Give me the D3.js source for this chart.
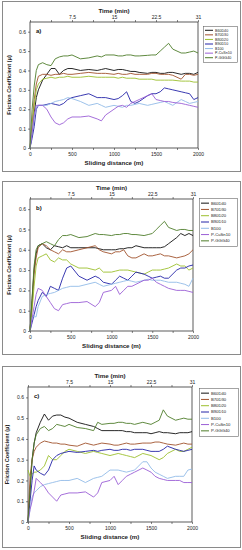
<!DOCTYPE html>
<html>
<head>
<meta charset="utf-8">
<script src="https://cdn.jsdelivr.net/npm/d3@7"></script>
<style>
  body { margin: 0; background: #fff; }
  svg { display: block; font-family: Arial, "Liberation Sans", sans-serif; }
</style>
</head>
<body>
<script>
// sliding distance (m) sample points shared by every curve
const distance = [0,25,50,75,100,150,200,250,300,350,400,450,500,600,700,800,850,900,1000,1050,1100,1150,1200,1250,1300,1400,1450,1500,1550,1600,1650,1700,1800,1850,1900,1950,2000];

const seriesNames = ["B60D40","B70D30","B80D20","B90D10","B100","P-CuSn10","P-GGG40"];
const seriesColors = ["#111111","#a0522d","#9cbf2e","#2424a8","#92bbe8","#9b5fd6","#4e7d2a"];

const yTicks = [0, 0.1, 0.2, 0.3, 0.4, 0.5, 0.6];
const xTicks = [0, 500, 1000, 1500, 2000];
const timeTicks = [7.5, 15, 22.5, 30];
const timeLabels = ["7.5", "15", "22.5", "31"];

// panel a)
const aB60D40 = [0,0.08,0.18,0.26,0.30,0.35,0.38,0.41,0.41,0.38,0.40,0.41,0.41,0.40,0.405,0.40,0.405,0.41,0.40,0.405,0.405,0.40,0.395,0.395,0.39,0.385,0.39,0.39,0.385,0.385,0.39,0.39,0.38,0.385,0.385,0.38,0.39];
const aB70D30 = [0,0.12,0.25,0.33,0.37,0.38,0.38,0.375,0.38,0.38,0.385,0.38,0.38,0.385,0.39,0.385,0.385,0.385,0.38,0.385,0.38,0.38,0.385,0.38,0.38,0.38,0.385,0.385,0.38,0.38,0.38,0.375,0.355,0.38,0.38,0.375,0.38];
const aB80D20 = [0,0.10,0.22,0.30,0.33,0.355,0.36,0.365,0.36,0.365,0.365,0.37,0.365,0.365,0.37,0.365,0.365,0.365,0.365,0.36,0.365,0.36,0.36,0.36,0.355,0.355,0.355,0.35,0.35,0.35,0.35,0.35,0.345,0.345,0.345,0.34,0.34];
const aB90D10 = [0,0.05,0.11,0.20,0.22,0.22,0.225,0.23,0.225,0.22,0.23,0.25,0.26,0.27,0.28,0.26,0.26,0.26,0.25,0.255,0.27,0.29,0.24,0.23,0.24,0.27,0.28,0.28,0.29,0.31,0.305,0.30,0.29,0.285,0.28,0.25,0.26];
const aB100 = [0,0.08,0.16,0.21,0.22,0.22,0.22,0.23,0.24,0.245,0.25,0.26,0.255,0.24,0.22,0.23,0.22,0.21,0.22,0.215,0.21,0.22,0.22,0.225,0.23,0.22,0.225,0.23,0.235,0.24,0.23,0.22,0.25,0.24,0.23,0.235,0.24];
const aCuSn10 = [0,0.08,0.17,0.22,0.22,0.22,0.20,0.16,0.13,0.12,0.13,0.15,0.16,0.16,0.165,0.15,0.14,0.17,0.20,0.215,0.22,0.21,0.23,0.24,0.25,0.27,0.28,0.25,0.245,0.24,0.24,0.235,0.23,0.225,0.22,0.215,0.21];
const aGGG40 = [0,0.20,0.32,0.40,0.43,0.44,0.43,0.425,0.46,0.47,0.475,0.475,0.48,0.46,0.465,0.475,0.47,0.48,0.48,0.475,0.475,0.48,0.48,0.475,0.475,0.478,0.48,0.48,0.50,0.52,0.54,0.51,0.49,0.49,0.495,0.50,0.49];

// panel b)
const bB60D40 = [0,0.15,0.30,0.38,0.42,0.43,0.41,0.40,0.42,0.415,0.41,0.42,0.41,0.41,0.41,0.41,0.405,0.40,0.40,0.40,0.405,0.405,0.41,0.41,0.42,0.41,0.41,0.41,0.41,0.41,0.415,0.43,0.46,0.48,0.47,0.48,0.47];
const bB70D30 = [0,0.12,0.28,0.36,0.41,0.43,0.42,0.40,0.39,0.38,0.40,0.39,0.39,0.40,0.41,0.42,0.40,0.39,0.38,0.39,0.39,0.40,0.37,0.36,0.36,0.38,0.37,0.37,0.375,0.38,0.37,0.37,0.36,0.365,0.37,0.38,0.40];
const bB80D20 = [0,0.10,0.22,0.32,0.36,0.37,0.38,0.35,0.34,0.36,0.35,0.35,0.33,0.31,0.31,0.30,0.31,0.29,0.29,0.295,0.30,0.30,0.30,0.295,0.29,0.28,0.29,0.30,0.30,0.30,0.305,0.31,0.33,0.32,0.32,0.30,0.31];
const bB90D10 = [0,0.04,0.08,0.12,0.15,0.19,0.17,0.22,0.21,0.20,0.26,0.31,0.32,0.27,0.25,0.27,0.26,0.24,0.23,0.25,0.27,0.26,0.25,0.27,0.29,0.28,0.27,0.26,0.265,0.27,0.26,0.26,0.30,0.31,0.31,0.32,0.325];
const bB100 = [0,0.07,0.07,0.07,0.12,0.17,0.18,0.185,0.19,0.20,0.21,0.215,0.22,0.22,0.23,0.24,0.23,0.22,0.23,0.235,0.24,0.245,0.25,0.245,0.24,0.25,0.255,0.25,0.25,0.25,0.245,0.24,0.24,0.235,0.23,0.22,0.26];
const bCuSn10 = [0,0.06,0.12,0.18,0.21,0.20,0.17,0.14,0.11,0.10,0.13,0.135,0.14,0.14,0.145,0.12,0.14,0.19,0.20,0.22,0.18,0.20,0.22,0.22,0.23,0.25,0.25,0.26,0.24,0.23,0.22,0.21,0.20,0.20,0.20,0.195,0.19];
const bGGG40 = [0,0.16,0.32,0.40,0.42,0.43,0.44,0.43,0.42,0.45,0.47,0.47,0.475,0.46,0.465,0.48,0.475,0.475,0.47,0.475,0.475,0.48,0.48,0.475,0.475,0.47,0.475,0.48,0.50,0.52,0.54,0.51,0.495,0.50,0.50,0.495,0.495];

// panel c)
const cB60D40 = [0,0.15,0.30,0.38,0.43,0.48,0.52,0.49,0.51,0.515,0.515,0.505,0.50,0.48,0.47,0.46,0.45,0.44,0.44,0.44,0.44,0.44,0.435,0.435,0.43,0.43,0.43,0.425,0.43,0.435,0.43,0.43,0.425,0.43,0.43,0.43,0.435];
const cB70D30 = [0,0.22,0.30,0.34,0.36,0.38,0.39,0.385,0.38,0.38,0.375,0.375,0.37,0.365,0.38,0.37,0.375,0.38,0.375,0.37,0.37,0.375,0.38,0.375,0.375,0.38,0.38,0.38,0.385,0.385,0.38,0.375,0.37,0.375,0.38,0.375,0.375];
const cB80D20 = [0.25,0.22,0.23,0.24,0.24,0.25,0.27,0.32,0.30,0.30,0.32,0.34,0.35,0.34,0.33,0.34,0.335,0.33,0.32,0.325,0.33,0.325,0.32,0.315,0.31,0.33,0.325,0.32,0.31,0.30,0.31,0.33,0.35,0.34,0.34,0.35,0.36];
const cB90D10 = [0,0.10,0.20,0.27,0.25,0.235,0.225,0.25,0.30,0.32,0.33,0.335,0.34,0.335,0.34,0.345,0.34,0.345,0.35,0.345,0.345,0.35,0.35,0.345,0.35,0.35,0.345,0.34,0.34,0.34,0.35,0.365,0.35,0.345,0.34,0.345,0.35];
const cB100 = [0,0.06,0.12,0.14,0.15,0.17,0.18,0.185,0.19,0.195,0.20,0.20,0.20,0.21,0.19,0.21,0.215,0.22,0.25,0.25,0.25,0.245,0.24,0.245,0.25,0.29,0.29,0.26,0.24,0.23,0.22,0.21,0.22,0.22,0.22,0.25,0.255];
const cCuSn10 = [0,0.06,0.10,0.15,0.21,0.19,0.17,0.14,0.12,0.10,0.13,0.135,0.14,0.14,0.145,0.12,0.14,0.19,0.20,0.22,0.18,0.20,0.22,0.23,0.24,0.26,0.25,0.24,0.22,0.21,0.205,0.20,0.20,0.20,0.19,0.19,0.19];
const cGGG40 = [0,0.15,0.30,0.38,0.42,0.45,0.46,0.44,0.45,0.47,0.465,0.46,0.47,0.455,0.45,0.44,0.48,0.47,0.475,0.475,0.48,0.48,0.475,0.475,0.47,0.48,0.475,0.47,0.48,0.49,0.54,0.51,0.49,0.495,0.50,0.495,0.495];

const panelA = [aB60D40, aB70D30, aB80D20, aB90D10, aB100, aCuSn10, aGGG40];
const panelB = [bB60D40, bB70D30, bB80D20, bB90D10, bB100, bCuSn10, bGGG40];
const panelC = [cB60D40, cB70D30, cB80D20, cB90D10, cB100, cCuSn10, cGGG40];

// layout of the three stacked panels (pixels)
const panels = [
  {tag: "a)", series: panelA, frame: [2, 1, 238, 170], x: [30, 198], y: [148, 22], legend: [203, 26, 34, 36]},
  {tag: "b)", series: panelB, frame: [2, 181, 238, 173], x: [30, 193], y: [331, 199], legend: [199, 198, 38, 48]},
  {tag: "c)", series: panelC, frame: [2, 366, 238, 181], x: [28, 192], y: [522, 387], legend: [199, 388, 39, 48]}
];

const width = 242, height = 550;
const svg = d3.select("body").append("svg")
    .attr("width", width)
    .attr("height", height)
    .attr("viewBox", [0, 0, width, height]);

panels.forEach(p => {
  const g = svg.append("g");
  const [fx, fy, fw, fh] = p.frame;

  g.append("rect")
      .attr("x", fx + 0.5).attr("y", fy + 0.5)
      .attr("width", fw).attr("height", fh)
      .attr("fill", "none").attr("stroke", "#8a8a8a").attr("stroke-width", 1);

  const x = d3.scaleLinear([0, 2000], p.x);
  const y = d3.scaleLinear([0, 0.65], p.y);
  const t = d3.scaleLinear([0, 30], p.x);

  // plot box
  g.append("rect")
      .attr("x", p.x[0]).attr("y", p.y[1])
      .attr("width", p.x[1] - p.x[0]).attr("height", p.y[0] - p.y[1])
      .attr("fill", "none").attr("stroke", "#333").attr("stroke-width", 0.8);

  const styleAxis = a => a.call(s => s.select(".domain").remove())
      .call(s => s.selectAll(".tick line").attr("stroke", "#333").attr("stroke-width", 0.6))
      .call(s => s.selectAll("text").attr("font-size", 5).attr("fill", "#222"));

  // bottom axis
  g.append("g")
      .attr("transform", `translate(0,${p.y[0]})`)
      .call(d3.axisBottom(x).tickValues(d3.range(0, 2001, 250)).tickSize(2).tickPadding(2)
          .tickFormat(d => xTicks.includes(d) ? d : ""))
      .call(styleAxis);

  // left axis
  g.append("g")
      .attr("transform", `translate(${p.x[0]},0)`)
      .call(d3.axisLeft(y).tickValues(yTicks).tickSize(2).tickPadding(2)
          .tickFormat(d => d === 0 ? "0" : d3.format(".1f")(d)))
      .call(styleAxis);

  // top axis: time
  g.append("g")
      .attr("transform", `translate(0,${p.y[1]})`)
      .call(d3.axisTop(t).tickValues(d3.range(0, 30.1, 3.75)).tickSize(2).tickPadding(1.5)
          .tickFormat(d => { const i = timeTicks.indexOf(d); return i >= 0 ? timeLabels[i] : ""; }))
      .call(styleAxis);

  const cx = (p.x[0] + p.x[1]) / 2;
  g.append("text")
      .attr("x", cx).attr("y", p.y[1] - 9)
      .attr("text-anchor", "middle")
      .attr("font-size", 6.2).attr("font-weight", "bold").attr("fill", "#222")
      .text("Time (min)");
  g.append("text")
      .attr("x", cx).attr("y", p.y[0] + 17)
      .attr("text-anchor", "middle")
      .attr("font-size", 6.2).attr("font-weight", "bold").attr("fill", "#222")
      .text("Sliding distance (m)");
  g.append("text")
      .attr("transform", `translate(${p.x[0] - 19},${(p.y[0] + p.y[1]) / 2}) rotate(-90)`)
      .attr("text-anchor", "middle")
      .attr("font-size", 5.6).attr("font-weight", "bold").attr("fill", "#222")
      .text("Friction Coefficient  (\u03bc)");
  g.append("text")
      .attr("x", p.x[0] + 6).attr("y", p.y[1] + 11)
      .attr("font-size", 6).attr("font-weight", "bold").attr("fill", "#111")
      .text(p.tag);

  const line = d3.line()
      .x((d, i) => x(distance[i]))
      .y(d => y(d));

  g.append("g")
      .selectAll("path")
      .data(p.series)
      .join("path")
      .attr("d", line)
      .attr("fill", "none")
      .attr("stroke", (d, i) => seriesColors[i])
      .attr("stroke-width", 0.9)
      .attr("stroke-linejoin", "round");

  // legend
  const [lx, ly, lw, lh] = p.legend;
  g.append("rect")
      .attr("x", lx + 0.5).attr("y", ly + 0.5)
      .attr("width", lw).attr("height", lh)
      .attr("fill", "#fff").attr("stroke", "#666").attr("stroke-width", 0.6);
  const step = (lh - 4) / seriesNames.length;
  const item = g.append("g").selectAll("g")
      .data(seriesNames)
      .join("g")
      .attr("transform", (d, i) => `translate(${lx + 2},${ly + 2 + step * (i + 0.5)})`);
  item.append("line")
      .attr("x1", 0).attr("x2", 8)
      .attr("stroke", (d, i) => seriesColors[i]).attr("stroke-width", 1);
  item.append("text")
      .attr("x", 10).attr("dy", "0.35em")
      .attr("font-size", Math.min(4.2, step * 0.8)).attr("fill", "#222")
      .text(d => d);
});
</script>
</body>
</html>
